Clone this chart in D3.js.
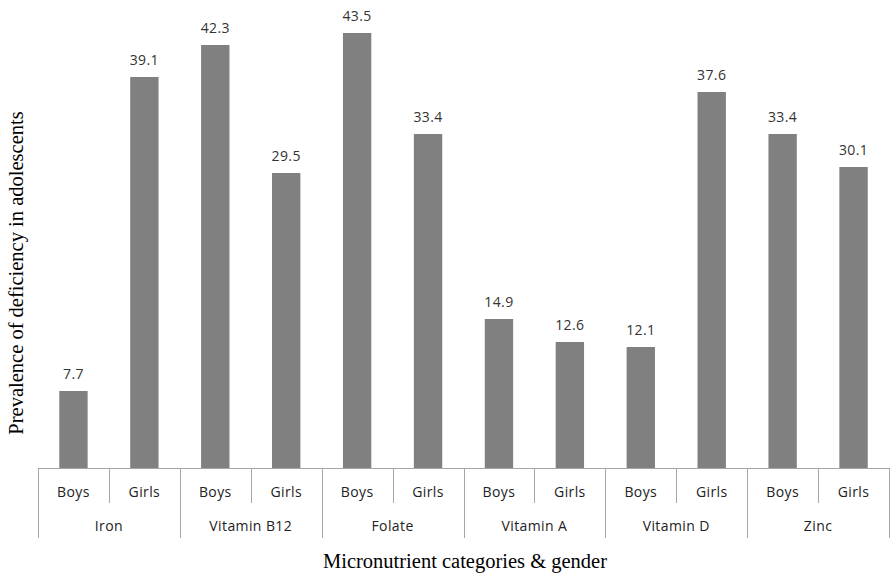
<!DOCTYPE html>
<html><head><meta charset="utf-8">
<script src="https://cdn.jsdelivr.net/npm/d3@7"></script>
<style>body{margin:0;background:#fff}svg{display:block}</style>
</head><body><svg id="c" width="896" height="574"></svg>
<script>
const groups = ["Iron","Vitamin B12","Folate","Vitamin A","Vitamin D","Zinc"];
const genders = ["Boys","Girls"];
const values = [7.7,39.1,42.3,29.5,43.5,33.4,14.9,12.6,12.1,37.6,33.4,30.1];
const xTitle = "Micronutrient categories & gender";
const yTitle = "Prevalence of deficiency in adolescents";

const svg = d3.select("#c");
const x0 = 38, x1 = 889, yBase = 468;
const cats = [];
groups.forEach(g => genders.forEach(s => cats.push(g + "|" + s)));
const x = d3.scaleBand().domain(cats).range([x0, x1]).paddingInner(0.6).paddingOuter(0.3);
const xg = d3.scaleBand().domain(groups).range([x0, x1]);
const y = d3.scaleLinear().domain([0, 46.8]).range([yBase, 0]);
const lineCol = "#a6a6a6";
const lf = "Open Sans, sans-serif";

svg.selectAll("rect.bar").data(values).join("rect")
  .attr("x", (d,i) => x(cats[i])).attr("width", x.bandwidth())
  .attr("y", d => y(d)).attr("height", d => yBase - y(d))
  .attr("fill", "#808080");
svg.selectAll("text.val").data(values).join("text")
  .attr("x", (d,i) => x(cats[i]) + x.bandwidth()/2)
  .attr("y", d => y(d) - 12)
  .attr("text-anchor","middle").attr("font-family",lf).attr("letter-spacing","0.4")
  .attr("font-size", 14).attr("fill","#333").text(d => d.toFixed(1));

const ax = svg.append("g");
ax.append("line").attr("x1", x0).attr("x2", x1).attr("y1", yBase+0.5).attr("y2", yBase+0.5)
  .attr("stroke", lineCol);
cats.forEach((c,i) => {
  const xs = Math.round(x0 + i*(x1-x0)/cats.length) + 0.5;
  if (i % 2 === 1) {
    ax.append("line").attr("x1", xs).attr("x2", xs).attr("y1", yBase).attr("y2", 503).attr("stroke", lineCol);
  }
});
groups.concat([null]).forEach((g,i) => {
  const xs = Math.round(g ? xg(g) : x1) + 0.5;
  ax.append("line").attr("x1", xs).attr("x2", xs).attr("y1", yBase).attr("y2", 538).attr("stroke", lineCol);
});
cats.forEach((c,i) => {
  ax.append("text").attr("x", x(c) + x.bandwidth()/2).attr("y", 497)
    .attr("text-anchor","middle").attr("font-family",lf).attr("letter-spacing","0.4")
    .attr("font-size", 14).attr("fill","#222").text(c.split("|")[1]);
});
groups.forEach(g => {
  ax.append("text").attr("x", xg(g) + xg.bandwidth()/2).attr("y", 531)
    .attr("text-anchor","middle").attr("font-family",lf).attr("letter-spacing","0.4")
    .attr("font-size", 14).attr("fill","#222").text(g);
});
svg.append("text").attr("x", 465).attr("y", 568).attr("text-anchor","middle")
  .attr("font-family","Liberation Serif, Times New Roman, serif").attr("font-size", 20.5).attr("fill","#000").text(xTitle);
svg.append("text").attr("transform","translate(23,273) rotate(-90)").attr("text-anchor","middle")
  .attr("font-family","Liberation Serif, Times New Roman, serif").attr("font-size", 20.5).attr("fill","#000").text(yTitle);
</script></body></html>
